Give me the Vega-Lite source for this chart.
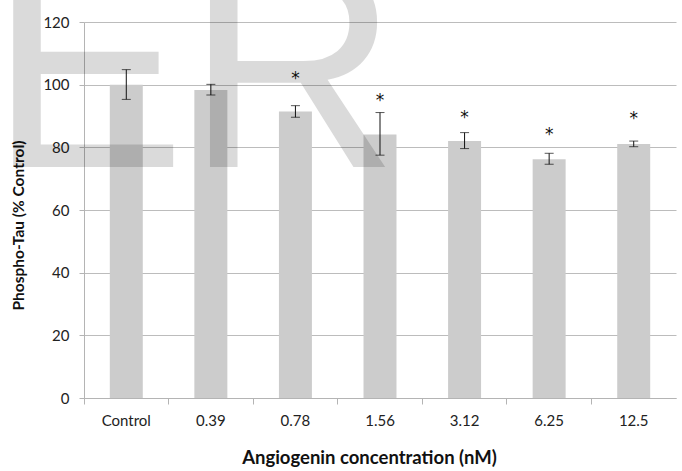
{
  "$schema": "https://vega.github.io/schema/vega-lite/v6.json",
  "autosize": "none",
  "width": 592,
  "height": 376,
  "padding": {"left": 84, "top": 22, "right": 6, "bottom": 73},
  "background": "white",
  "config": {
    "view": {"stroke": null},
    "font": "Lato",
    "axis": {"labelFont": "Lato", "titleFont": "Lato", "labelColor": "#222222", "titleColor": "#111111"}
  },
  "datasets": {
    "bars": [
      {"conc": "Control", "mean": 100.0, "lo": 95.3, "hi": 104.8},
      {"conc": "0.39", "mean": 98.3, "lo": 96.7, "hi": 100.1},
      {"conc": "0.78", "mean": 91.4, "lo": 89.6, "hi": 93.3},
      {"conc": "1.56", "mean": 84.1, "lo": 77.5, "hi": 91.1},
      {"conc": "3.12", "mean": 82.0, "lo": 79.6, "hi": 84.7},
      {"conc": "6.25", "mean": 76.2, "lo": 74.6, "hi": 78.1},
      {"conc": "12.5", "mean": 81.1, "lo": 80.2, "hi": 82.0}
    ],
    "stars": [
      {"conc": "0.78", "sig": "*", "pos": 103.0},
      {"conc": "1.56", "sig": "*", "pos": 96.2},
      {"conc": "3.12", "sig": "*", "pos": 90.6},
      {"conc": "6.25", "sig": "*", "pos": 85.2},
      {"conc": "12.5", "sig": "*", "pos": 90.2}
    ],
    "mark": [{"wm": "ER"}]
  },
  "layer": [
    {
      "data": {"name": "bars"},
      "mark": {"type": "bar", "color": "#cccccc", "width": {"band": 0.39}},
      "encoding": {
        "x": {
          "field": "conc", "type": "nominal", "sort": null,
          "scale": {"paddingInner": 0, "paddingOuter": 0},
          "axis": {
            "title": "Angiogenin concentration (nM)",
            "titleFontSize": 18.5, "titleFontWeight": "bold", "titlePadding": 20, "titleX": 285,
            "labelAngle": 0, "labelFontSize": 15, "labelPadding": 9,
            "domainColor": "#b4b4b4", "tickColor": "#b4b4b4", "tickSize": 6,
            "bandPosition": 0, "grid": false
          }
        },
        "y": {
          "field": "mean", "type": "quantitative",
          "scale": {"domain": [0, 120], "nice": false},
          "axis": {
            "title": "Phospho-Tau (% Control)",
            "titleFontSize": 15.5, "titleFontWeight": "bold", "titlePadding": 16, "titleY": 203,
            "values": [0, 20, 40, 60, 80, 100, 120],
            "labelFontSize": 15, "labelPadding": 10,
            "domainColor": "#b4b4b4", "tickColor": "#b4b4b4", "tickSize": 5,
            "gridColor": "#bcbcbc", "gridWidth": 1
          }
        }
      }
    },
    {
      "data": {"name": "bars"},
      "mark": {"type": "rule", "color": "#111111", "strokeWidth": 1},
      "encoding": {
        "x": {"field": "conc", "type": "nominal", "sort": null},
        "y": {"field": "lo", "type": "quantitative"},
        "y2": {"field": "hi"}
      }
    },
    {
      "data": {"name": "bars"},
      "mark": {"type": "tick", "color": "#111111", "thickness": 1, "size": 9, "orient": "horizontal"},
      "encoding": {
        "x": {"field": "conc", "type": "nominal", "sort": null},
        "y": {"field": "lo", "type": "quantitative"}
      }
    },
    {
      "data": {"name": "bars"},
      "mark": {"type": "tick", "color": "#111111", "thickness": 1, "size": 9, "orient": "horizontal"},
      "encoding": {
        "x": {"field": "conc", "type": "nominal", "sort": null},
        "y": {"field": "hi", "type": "quantitative"}
      }
    },
    {
      "data": {"name": "stars"},
      "mark": {"type": "text", "font": "DejaVu Sans", "fontSize": 17, "color": "#111111", "baseline": "middle", "dy": 4},
      "encoding": {
        "x": {"field": "conc", "type": "nominal", "sort": null},
        "y": {"field": "pos", "type": "quantitative"},
        "text": {"field": "sig"}
      }
    },
    {
      "data": {"name": "mark"},
      "mark": {"type": "text", "font": "Liberation Sans", "fontSize": 295, "color": "#000000", "opacity": 0.14, "baseline": "alphabetic", "align": "center", "clip": false},
      "encoding": {
        "x": {"datum": "0.39", "type": "nominal", "bandPosition": 0.3},
        "y": {"datum": 73.7, "type": "quantitative"},
        "text": {"field": "wm"}
      }
    }
  ]
}
